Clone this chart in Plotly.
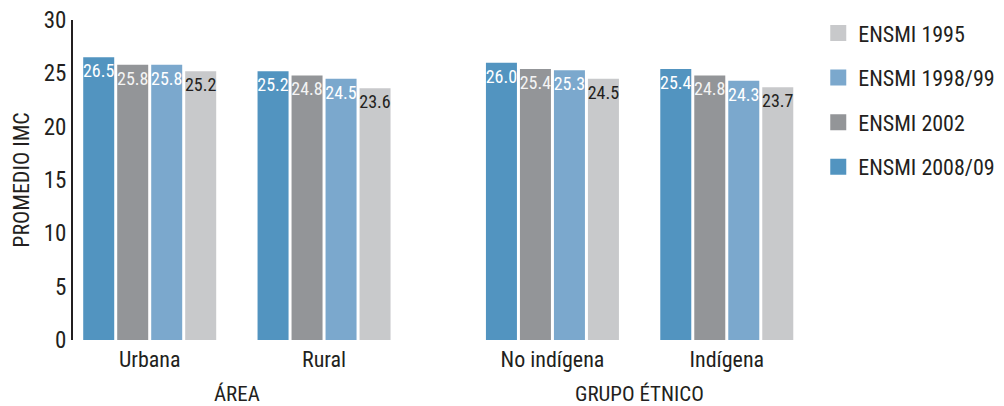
import plotly.graph_objects as go

categories = ["Urbana", "Rural", "No indígena", "Indígena"]
sections = ["ÁREA", "ÁREA", "GRUPO ÉTNICO", "GRUPO ÉTNICO"]
series_names = ["ENSMI 2008/09", "ENSMI 2002", "ENSMI 1998/99", "ENSMI 1995"]
v_2008 = [26.5, 25.2, 26.0, 25.4]
v_2002 = [25.8, 24.8, 25.4, 24.8]
v_1998 = [25.8, 24.5, 25.3, 24.3]
v_1995 = [25.2, 23.6, 24.5, 23.7]
series_values = [v_2008, v_2002, v_1998, v_1995]
y_ticks = [0, 5, 10, 15, 20, 25, 30]

colors = ["#5294c0", "#939598", "#7ba8cd", "#c8c9cb"]
text_colors = ["#ffffff", "#f4f4f4", "#ffffff", "#231f20"]
FONT = "Liberation Sans Narrow, Roboto Condensed, DejaVu Sans Condensed, Arial Narrow, sans-serif"
DARK = "#231f20"

# x positions: category index plus an extra gap between sections
sec_order = []
for s in sections:
    if s not in sec_order:
        sec_order.append(s)
xpos = [i + 0.31 * sec_order.index(s) for i, s in enumerate(sections)]

fig = go.Figure()
for name, vals, c, tc in zip(series_names, series_values, colors, text_colors):
    fig.add_trace(go.Bar(
        x=xpos, y=vals, name=name, showlegend=False,
        marker=dict(color=c, line=dict(width=0)),
        texttemplate="%{y:.1f}", textposition="inside", insidetextanchor="end",
        textangle=0, constraintext="none",
        textfont=dict(family=FONT, size=18, color=tc),
        hoverinfo="skip",
    ))
# legend-only entries (larger square swatches), oldest survey first
for name, c in reversed(list(zip(series_names, colors))):
    fig.add_trace(go.Scatter(
        x=[None], y=[None], mode="markers", name=name, legendgroup=name,
        marker=dict(symbol="square", size=16, color=c, line=dict(width=0)),
        hoverinfo="skip",
    ))

# section titles
for s in sec_order:
    xs = [x for x, ss in zip(xpos, sections) if ss == s]
    fig.add_annotation(x=sum(xs) / len(xs), y=-0.17, xref="x", yref="paper",
                       text=s, showarrow=False, yanchor="middle",
                       font=dict(family=FONT, size=21, color=DARK))

fig.update_layout(
    width=1004, height=406,
    margin=dict(l=73, r=204, t=20, b=66, autoexpand=False),
    paper_bgcolor="white", plot_bgcolor="white",
    barmode="group", bargap=0.22, bargroupgap=0.088,
    font=dict(family=FONT, color=DARK),
    showlegend=True,
    legend=dict(xref="container", yref="container", x=0.815, y=0.97,
                xanchor="left", yanchor="top",
                traceorder="grouped", tracegroupgap=13,
                font=dict(family=FONT, size=22, color=DARK)),
)
fig.update_xaxes(range=[-0.44, 3.73], tickvals=xpos, ticktext=categories,
                 showgrid=False, zeroline=False, showline=False, ticks="",
                 automargin=False, ticklabelstandoff=4,
                 tickfont=dict(family=FONT, size=22, color=DARK))
fig.update_yaxes(range=[0, 30], tickvals=y_ticks, showgrid=False, zeroline=False,
                 showline=True, linecolor=DARK, linewidth=2, ticks="",
                 automargin=False,
                 tickfont=dict(family=FONT, size=23, color=DARK),
                 title=dict(text="PROMEDIO IMC", standoff=8,
                            font=dict(family=FONT, size=22, color=DARK)))

fig.write_html("out.html", config={"displayModeBar": False},
               post_script="document.body.style.margin='0';document.body.style.overflow='hidden';")
